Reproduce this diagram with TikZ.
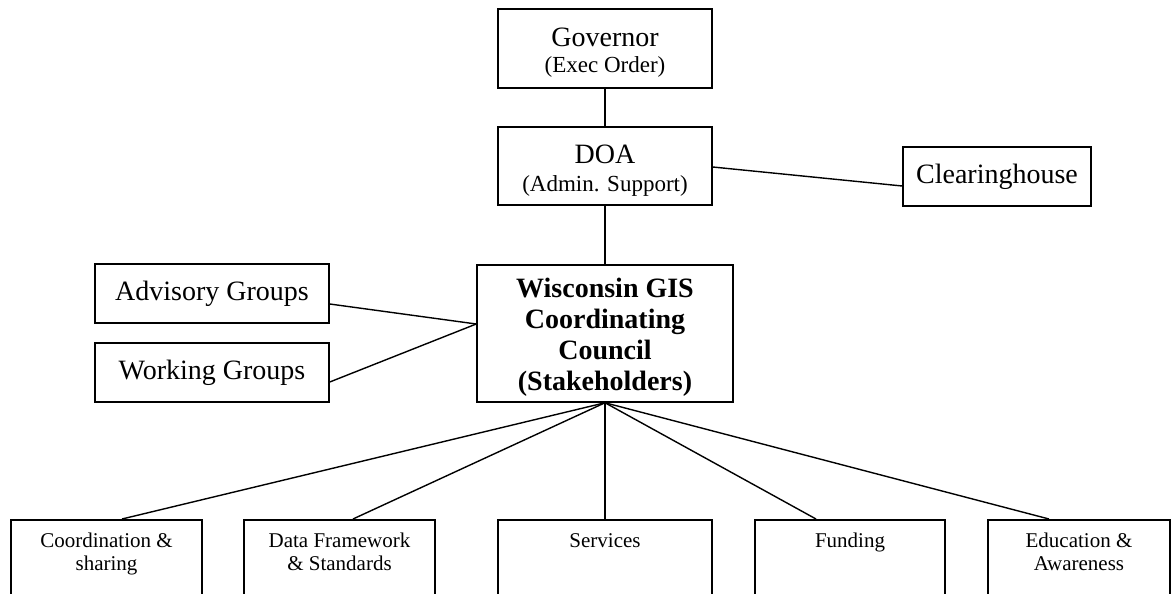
\documentclass[tikz,border=0pt]{standalone}
\usepackage{fontspec}
\setmainfont{Liberation Serif}
\begin{document}
\begin{tikzpicture}[x=1pt,y=-1pt,
  box/.style={draw,line width=1.5pt,rectangle,inner sep=0pt,anchor=center,align=center},
  conn/.style={line width=1.4pt},
  big/.style={font=\fontsize{28}{30}\selectfont},
  council/.style={font=\fontsize{28}{30.7}\selectfont\bfseries},
  lbl/.style={inner sep=0pt,anchor=north,align=center,font=\fontsize{21}{22.5}\selectfont}]
\useasboundingbox (0,0) rectangle (1171,594);
\clip (0,0) rectangle (1171,594);
% top boxes
\node[box,big,minimum width=214pt,minimum height=79pt] (gov) at (605,48.5)
  {\rule{0pt}{27pt}Governor\\[-4pt]{\fontsize{23}{26}\selectfont (Exec Order)}};
\node[box,big,minimum width=214pt,minimum height=78pt] (doa) at (605,166)
  {\rule{0pt}{28pt}DOA\\[-2pt]{\fontsize{23}{26}\selectfont (Admin. Support)}};
\node[box,big,minimum width=188pt,minimum height=59pt] (clr) at (997,176.5) {Clearinghouse};
\node[box,big,minimum width=234pt,minimum height=59pt] (adv) at (212,293.5) {Advisory Groups};
\node[box,big,minimum width=234pt,minimum height=59pt] (wrk) at (212,372.5) {Working Groups};
\node[box,council,minimum width=256pt,minimum height=137pt] (wgcc) at (605,333.5)
  {\rule{0pt}{27pt}Wisconsin GIS\\Coordinating\\Council\\(Stakeholders)};
% bottom boxes (cut by the frame)
\node[box,minimum width=191pt,minimum height=100pt,anchor=north] (b1) at (106.5,519) {};
\node[box,minimum width=191pt,minimum height=100pt,anchor=north] (b2) at (339.5,519) {};
\node[box,minimum width=214pt,minimum height=100pt,anchor=north] (b3) at (605,519) {};
\node[box,minimum width=190pt,minimum height=100pt,anchor=north] (b4) at (850,519) {};
\node[box,minimum width=182pt,minimum height=100pt,anchor=north] (b5) at (1079,519) {};
\node[lbl] (t1) at ([yshift=-14pt]b1.north) {Coordination \&\\sharing};
\node[lbl] (t2) at ([yshift=-14pt]b2.north) {Data Framework\\\& Standards};
\node[lbl] (t3) at ([yshift=-14pt]b3.north) {Services};
\node[lbl] (t4) at ([yshift=-14pt]b4.north) {Funding};
\node[lbl] (t5) at ([yshift=-14pt]b5.north) {Education \&\\Awareness};
% connectors
\draw[conn] (gov.south) -- (doa.north);
\draw[conn] (doa.south) -- (wgcc.north);
\draw[conn] ([yshift=-1pt]doa.east) -- ([yshift=-9.5pt]clr.west);
\draw[conn] ([yshift=-10.5pt]adv.east) -- ([yshift=9.5pt]wgcc.west);
\draw[conn] ([yshift=-9.5pt]wrk.east) -- ([yshift=9.5pt]wgcc.west);
\draw[conn] (wgcc.south) -- ([xshift=15.5pt]b1.north);
\draw[conn] (wgcc.south) -- ([xshift=13.5pt]b2.north);
\draw[conn] (wgcc.south) -- (b3.north);
\draw[conn] (wgcc.south) -- ([xshift=-34pt]b4.north);
\draw[conn] (wgcc.south) -- ([xshift=-30pt]b5.north);
\end{tikzpicture}
\end{document}
